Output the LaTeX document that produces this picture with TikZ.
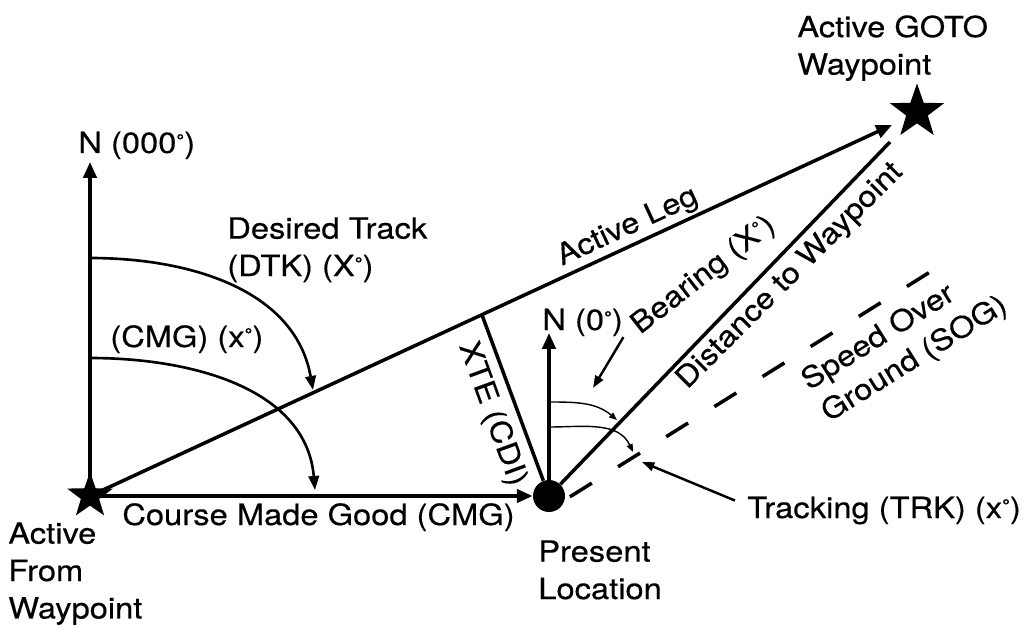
\documentclass[tikz,border=0pt]{standalone}
\usepackage{fontspec}
\setmainfont[FakeStretch=1.12, FakeBold=0.4]{TeX Gyre Heros}
\usetikzlibrary{arrows.meta,shapes.geometric,calc}
\newcommand{\dg}{\raisebox{0.22em}{\fontsize{10}{10}\selectfont °}}

\begin{document}
\begin{tikzpicture}[x=0.02cm, y=0.02cm,
  font=\fontsize{16.6}{21.3}\selectfont, >={Triangle[length=9pt, width=7.5pt]},
  lbl/.style={inner sep=0pt, align=left},
  wpt/.style={star, star points=5, star point ratio=2.5, fill=black, inner sep=0pt},
  main/.style={line width=2pt},
  swing/.style={line width=1.5pt, -{Triangle[length=8pt, width=6pt]}},
  tiny/.style={line width=0.8pt, -{Triangle[length=4.5pt, width=3.5pt]}},
  pointer/.style={line width=1.4pt, -{Triangle[length=7pt, width=5pt]}}]
\useasboundingbox (0,0) rectangle (1027,626);
\node[wpt, minimum size=0.96cm] (from) at (90,130) {};
\node[wpt, minimum size=1.14cm] (goto) at (917,514) {};
\node[circle, fill=black, minimum size=0.64cm, inner sep=0pt] (here) at (549,130) {};
\coordinate (north) at (90,464);
\coordinate (legtip) at (892,501);
\coordinate (xtefoot) at (482,311);
\coordinate (herenorth) at (549,293);
\coordinate (distend) at (890,484);
\coordinate (sogend) at (930,354);
\coordinate (dtkstart) at (90,368); \coordinate (dtkend) at (313,236);
\coordinate (cmgstart) at (90,268); \coordinate (cmgend) at (315,136);
\coordinate (brgstart) at (549,224); \coordinate (brgend) at (617,206);
\coordinate (trkstart) at (549,199); \coordinate (trkend) at (633,174);
\coordinate (brgtip) at (593,238);
\coordinate (trktip) at (642,164);
\node[lbl, anchor=base west] (n000) at (78,473) {N (000\dg)};
\node[lbl, anchor=north west] (dtk) at (227,409) {Desired Track\\(DTK) (X\dg)};
\node[lbl, anchor=base west] (cmg) at (110,279) {(CMG) (x\dg)};
\node[lbl, anchor=base west] (course) at (122,101) {Course Made Good (CMG)};
\node[lbl, anchor=north west] (fromlbl) at (8,104) {Active\\From\\Waypoint};
\node[lbl, anchor=north west] (herelbl) at (538,86) {Present\\Location};
\node[lbl, anchor=base west] (n0) at (542,296) {N (0\dg)};
\node[lbl, anchor=north west] (gotolbl) at (797,611) {Active GOTO\\Waypoint};
\node[lbl, anchor=base west] (trk) at (747,108) {Tracking (TRK) (x\dg)};
\node[lbl, rotate=-70] (xte) at (492,212) {XTE (CDI)};
\node[lbl, rotate=38, anchor=base west] (bearing) at (640,291) {Bearing (X\dg)};
\node[lbl, rotate=45, anchor=base west] (dist) at (687,236) {Distance to Waypoint};
\node[lbl, rotate=32, anchor=north west] (sog) at (797,254) {Speed Over\\Ground (SOG)};
\draw[main, ->] (from.center) -- (north);
\draw[main, ->] (from.center) -- (here.west);
\draw[main, ->] (from.center) -- node[pos=0.68, sloped, above, inner sep=1.5pt] (leglbl) {Active Leg} (legtip);
\draw[main] (xtefoot) -- (here);
\draw[main, ->] (here) -- (herenorth);
\draw[main] (here) -- (distend);
\draw[main, dash pattern=on 14.7pt off 17.6pt, dash phase=28.9pt] (here.-14) -- (sogend);
\draw[swing] (dtkstart) to[out=0, in=100] (dtkend);
\draw[swing] (cmgstart) to[out=0, in=95] (cmgend);
\draw[tiny] (brgstart) to[out=0, in=140] (brgend);
\draw[tiny] (trkstart) to[out=0, in=115] (trkend);
\draw[pointer] ([shift={(-12,-8)}]bearing.west) -- (brgtip);
\draw[pointer] ([shift={(-12,10)}]trk.west) -- (trktip);
\end{tikzpicture}
\end{document}
